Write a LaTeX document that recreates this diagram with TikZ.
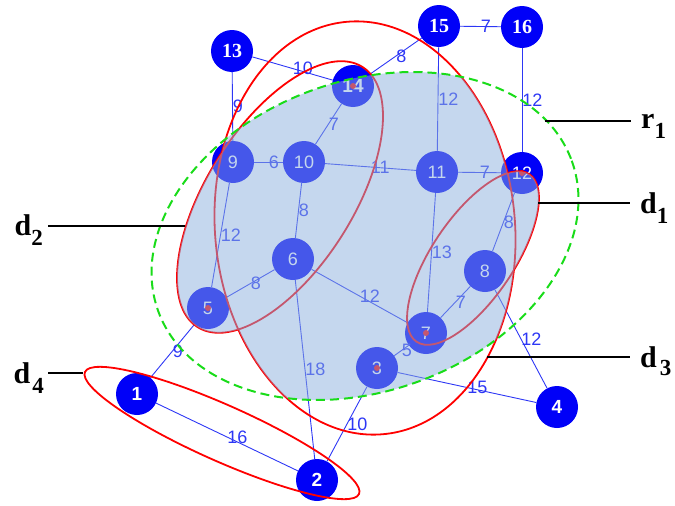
\documentclass[tikz,border=0pt]{standalone}
\usepackage{fontspec}
\setmainfont{Liberation Serif}
\setsansfont{Liberation Sans}
\usetikzlibrary{calc}
\definecolor{vblue}{RGB}{0,0,248}
\definecolor{eblue}{RGB}{45,55,245}
\definecolor{lightfill}{RGB}{139,175,221}
\definecolor{dgreen}{RGB}{25,220,25}

\begin{document}
\begin{tikzpicture}[x=1pt,y=-1pt,
  every node/.style={font=\sffamily\fontsize{18}{18}\selectfont},
  vert/.style={circle,fill=vblue,minimum size=42pt,inner sep=0pt,text=white},
  vbold/.style={vert,font=\sffamily\bfseries\fontsize{19}{19}\selectfont},
  vserif/.style={vert,font=\rmfamily\bfseries\fontsize{20}{20}\selectfont},
  wlab/.style={anchor=west,inner sep=0pt,text=eblue},
  link/.style={eblue,line width=0.9pt},
  blob/.style={red,line width=1.8pt},
  tag/.style={font=\rmfamily\bfseries\fontsize{30}{30}\selectfont,inner sep=0pt},
  lead/.style={black,line width=2pt}]
  \useasboundingbox (0,0) rectangle (675,506);

  % vertices
  \node[vserif] (n13) at (232,51) {13};
  \node[vbold] (n14) at (353,86) {14};
  \node[vserif] (n15) at (439,26) {15};
  \node[vserif] (n16) at (522,27) {16};
  \node[vert] (n9) at (233,162) {9};
  \node[vert] (n10) at (304,162) {10};
  \node[vert] (n11) at (437,172) {11};
  \node[vert] (n12) at (522,173) {12};
  \node[vert] (n6) at (293,259) {6};
  \node[vert] (n5) at (208,308) {5};
  \node[vert] (n8) at (485,271) {8};
  \node[vert] (n7) at (426,333) {7};
  \node[vert] (n3) at (377,368) {3};
  \node[vbold] (n4) at (557,407) {4};
  \node[vbold] (n1) at (137,394) {1};
  \node[vbold] (n2) at (317,480) {2};

  % weighted edges
  \draw[link] (n13) -- node[wlab]{10} (n14);
  \draw[link] (n13) -- node[wlab]{9} (n9);
  \draw[link] (n14) -- node[wlab]{8} (n15);
  \draw[link] (n15) -- node[wlab]{7} (n16);
  \draw[link] (n15) -- node[wlab]{12} (n11);
  \draw[link] (n16) -- node[wlab]{12} (n12);
  \draw[link] (n9) -- node[wlab]{6} (n10);
  \draw[link] (n10) -- node[wlab]{7} (n14);
  \draw[link] (n10) -- node[wlab]{11} (n11);
  \draw[link] (n11) -- node[wlab]{7} (n12);
  \draw[link] (n10) -- node[wlab]{8} (n6);
  \draw[link] (n9) -- node[wlab]{12} (n5);
  \draw[link] (n5) -- node[wlab]{8} (n6);
  \draw[link] (n6) -- node[wlab]{12} (n7);
  \draw[link] (n6) -- node[wlab]{18} (n2);
  \draw[link] (n11) -- node[wlab]{13} (n7);
  \draw[link] (n12) -- node[wlab]{8} (n8);
  \draw[link] (n7) -- node[wlab]{7} (n8);
  \draw[link] (n8) -- node[wlab]{12} (n4);
  \draw[link] (n7) -- node[wlab]{5} (n3);
  \draw[link] (n3) -- node[wlab]{15} (n4);
  \draw[link] (n3) -- node[wlab]{10} (n2);
  \draw[link] (n5) -- node[wlab]{9} (n1);
  \draw[link] (n1) -- node[wlab]{16} (n2);

  % centres
  \foreach \c in {n14,n12,n5,n7,n3}
    \fill[red] (\c) circle[radius=3pt];

  % clusters
  \draw[blob,rotate around={5:(365,228)}] (365,228) ellipse [x radius=150, y radius=207];
  \draw[blob,rotate around={57.6:(280,197)}] (280,197) ellipse [x radius=154, y radius=73];
  \draw[blob,rotate around={56:(473,258)}] (473,258) ellipse [x radius=101, y radius=41];

  \begin{scope}
    \clip[rotate around={20:(365,236)}] (365,236) ellipse [x radius=220, y radius=155];
    \fill[lightfill,fill opacity=0.5]
      {[rotate around={5:(365,228)}] (365,228) ellipse [x radius=150, y radius=207]}
      {[rotate around={57.6:(280,197)}] (280,197) ellipse [x radius=154, y radius=73]}
      {[rotate around={56:(473,258)}] (473,258) ellipse [x radius=101, y radius=41]};
  \end{scope}
  \draw[dgreen,line width=2pt,dash pattern=on 9pt off 5pt,rotate around={20:(365,236)}]
    (365,236) ellipse [x radius=220, y radius=155];
  \draw[blob,rotate around={-24:(222,433)}] (222,433) ellipse [x radius=150, y radius=28];

  % labels
  \coordinate (pr1) at (545,121);
  \coordinate (pd1) at (538,203);
  \coordinate (pd3) at (487,357);
  \coordinate (pd2) at (185,226);
  \coordinate (pd4) at (83,373);
  \node[tag,anchor=base west] (tr1) at (641,128) {r\raisebox{-10pt}{\fontsize{23}{23}\selectfont 1}};
  \node[tag,anchor=base west] (td1) at (640,213) {d\raisebox{-10pt}{\fontsize{23}{23}\selectfont 1}};
  \node[tag,anchor=base west] (td3) at (640,367) {d\hspace{3pt}\raisebox{-8pt}{\fontsize{23}{23}\selectfont 3}};
  \node[tag,anchor=base east] (td2) at (43,235) {d\raisebox{-10pt}{\fontsize{23}{23}\selectfont 2}};
  \node[tag,anchor=base east] (td4) at (44,383) {d\hspace{2pt}\raisebox{-10pt}{\fontsize{23}{23}\selectfont 4}};
  \draw[lead,shorten >=10pt] (pr1) -- (pr1 -| tr1.west);
  \draw[lead,shorten >=10pt] (pd1) -- (pd1 -| td1.west);
  \draw[lead,shorten >=10pt] (pd3) -- (pd3 -| td3.west);
  \draw[lead,shorten >=5pt] (pd2) -- (pd2 -| td2.east);
  \draw[lead,shorten >=4pt] (pd4) -- (pd4 -| td4.east);
\end{tikzpicture}
\end{document}
